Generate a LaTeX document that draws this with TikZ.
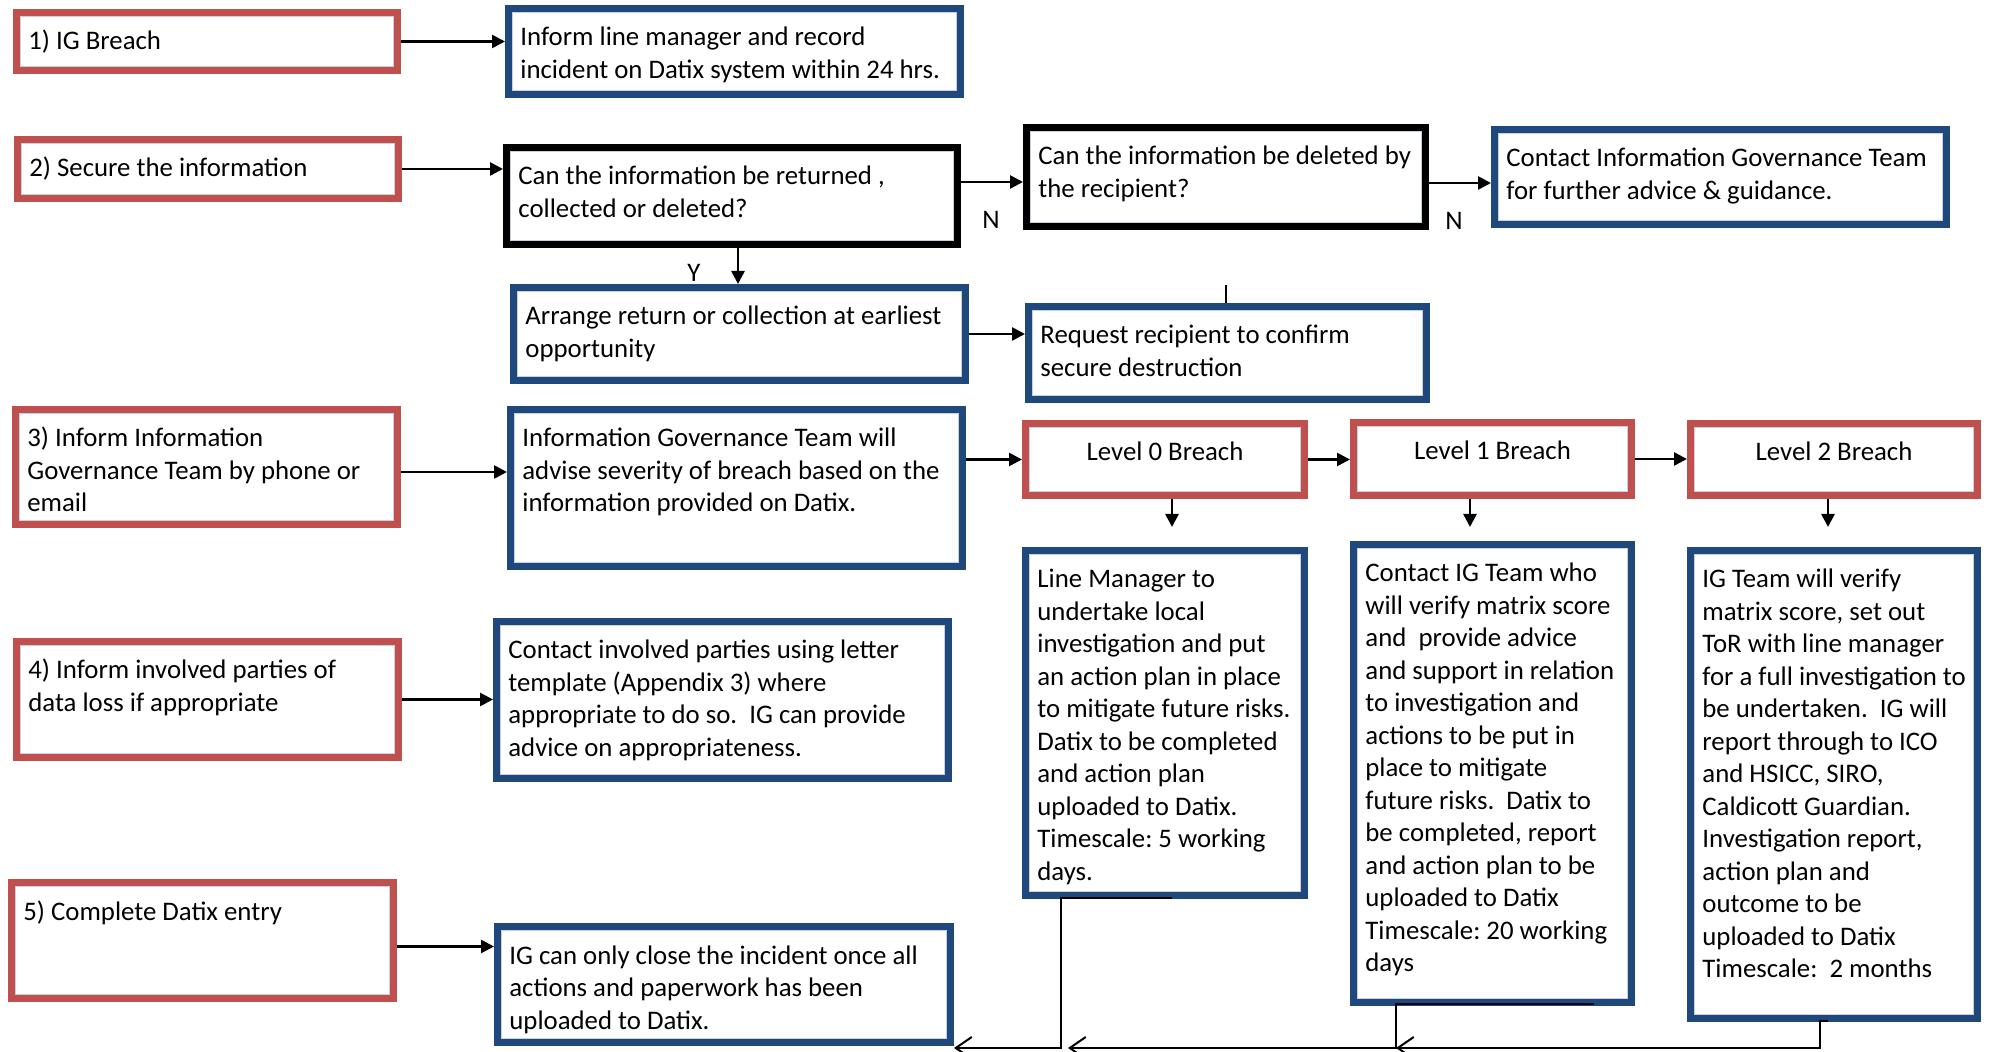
\documentclass[tikz,border=0pt]{standalone}
\usepackage{fontspec}
\setmainfont{Carlito}
\usetikzlibrary{arrows.meta,calc}
\definecolor{redc}{HTML}{C0504D}
\definecolor{bluec}{HTML}{1F497D}
\definecolor{innerc}{HTML}{C8D0DC}
\newcommand\fsz{\fontsize{13.4}{16.25}\selectfont}
\frenchspacing
\tikzset{
  boxbase/.style={rectangle, line width=3.5pt, fill=white, anchor=north west, inner sep=0pt},
  rbox/.style={boxbase, draw=redc},
  bbox/.style={boxbase, draw=bluec},
  kbox/.style={boxbase, draw=black},
  inl/.style={draw=innerc, line width=0.5pt},
  txt/.style={anchor=base west, inner sep=0pt, font=\fsz},
  ctxt/.style={anchor=base, inner sep=0pt, font=\fsz},
  lbl/.style={inner sep=0pt, font=\fsz},
  arr/.style={-{Triangle[length=6.5pt,width=6.5pt]}, line width=1.3pt},
  barb/.style={-{Straight Barb[length=8pt,width=11pt]}, line width=1pt},
}
% style, name, x0, y0, x1, y1, text
\newcommand\mkbox[7]{%
  \node[#1, minimum width={(#5-#3-7)*0.5pt}, minimum height={(#6-#4-7)*0.5pt}] (#2) at ({#3},{#4}) {};
  \draw[inl] ([shift={(3.7pt,-3.7pt)}]#2.north west) rectangle ([shift={(-3.7pt,3.7pt)}]#2.south east);
  \node[txt] (#2t) at ({#3+15},{#4+41}) {\parbox[t]{300pt}{\raggedright #7}};
}
\newcommand\mklevel[6]{%
  \node[rbox, minimum width={(#4-#2-7)*0.5pt}, minimum height={(#5-#3-7)*0.5pt}] (#1) at ({#2},{#3}) {};
  \draw[inl] ([shift={(3.7pt,-3.7pt)}]#1.north west) rectangle ([shift={(-3.7pt,3.7pt)}]#1.south east);
  \node[ctxt] (#1t) at ({(#2+#4)/2},{#3+41}) {#6};
}
\begin{document}
\begin{tikzpicture}[x=0.5pt,y=-0.5pt]
\useasboundingbox (0,0) rectangle (1992,1052);
\fill[white] (0,0) rectangle (1992,1052);

\mkbox{rbox}{R1}{13}{9}{401}{74}{1) IG Breach}
\mkbox{bbox}{B1}{505}{5}{964}{98}{Inform line manager and record\\incident on Datix system within 24 hrs.}
\mkbox{rbox}{R2}{14}{136}{402}{202}{2) Secure the information}
\mkbox{kbox}{Q1}{503}{144}{961}{248}{Can the information be returned ,\\collected or deleted?}
\mkbox{bbox}{Ar}{510}{284}{969}{384}{Arrange return or collection at earliest\\opportunity}
\mkbox{kbox}{Q2}{1023}{124}{1429}{230}{Can the information be deleted by\\the recipient?}
\mkbox{bbox}{Ct}{1491}{126}{1950}{228}{Contact Information Governance Team\\for further advice \& guidance.}
\mkbox{bbox}{Rq}{1025}{303}{1430}{403}{Request recipient to confirm\\secure destruction}
\mkbox{rbox}{R3}{12}{406}{401}{528}{3) Inform Information\\Governance Team by phone or\\email}
\mkbox{bbox}{B3}{507}{406}{966}{570}{Information Governance Team will\\advise severity of breach based on the\\information provided on Datix.}
\mklevel{L0}{1022}{420}{1308}{499}{Level 0 Breach}
\mklevel{L1}{1350}{419}{1635}{499}{Level 1 Breach}
\mklevel{L2}{1687}{420}{1981}{499}{Level 2 Breach}
\mkbox{bbox}{D0}{1022}{547}{1308}{899}{Line Manager to\\undertake local\\investigation and put\\an action plan in place\\to mitigate future risks.\\Datix to be completed\\and action plan\\uploaded to Datix.\\Timescale: 5 working\\days.}
\mkbox{bbox}{D1}{1350}{541}{1635}{1006}{Contact IG Team who\\will verify matrix score\\and~~provide advice\\and support in relation\\to investigation and\\actions to be put in\\place to mitigate\\future risks.~~Datix to\\be completed, report\\and action plan to be\\uploaded to Datix\\Timescale: 20 working\\days}
\mkbox{bbox}{D2}{1687}{547}{1981}{1022}{IG Team will verify\\matrix score, set out\\ToR with line manager\\for a full investigation to\\be undertaken.~~IG will\\report through to ICO\\and HSICC, SIRO,\\Caldicott Guardian.\\Investigation report,\\action plan and\\outcome to be\\uploaded to Datix\\Timescale:~~2 months}
\mkbox{rbox}{R4}{13}{638}{402}{761}{4) Inform involved parties of\\data loss if appropriate}
\mkbox{bbox}{B4}{493}{618}{952}{782}{Contact involved parties using letter\\template (Appendix 3) where\\appropriate to do so.~~IG can provide\\advice on appropriateness.}
\mkbox{rbox}{R5}{8}{879}{397}{1002}{5) Complete Datix entry}
\mkbox{bbox}{B5}{494}{923}{954}{1046}{IG can only close the incident once all\\actions and paperwork has been\\uploaded to Datix.}

% labels
\node[lbl] (lY) at (694,273) {Y};
\node[lbl] (lN1) at (991,220) {N};
\node[lbl] (lN2) at (1454,221) {N};

% connectors
\draw[arr] (R1.east) -- (R1.east -| B1.west);
\draw[arr] (R2.east) -- (R2.east -| Q1.west);
\draw[arr] ([yshift=7pt]Q1.east) -- ([yshift=7pt]Q1.east -| Q2.west);
\draw[arr] ([xshift=3pt]Q1.south) -- ([xshift=3pt]Q1.south |- Ar.north);
\draw[arr] ([yshift=-3pt]Q2.east) -- ([yshift=-3pt]Q2.east -| Ct.west);
\draw[arr] (Ar.east) -- (Ar.east -| Rq.west);
\coordinate (tk) at (1226,285);
\draw[line width=1.2pt] (tk) -- (tk |- Rq.north);
\draw[arr] ([yshift=-2.5pt]R3.east) -- ([yshift=-2.5pt]R3.east -| B3.west);
\draw[arr] (L0.west -| B3.east) -- (L0.west);
\draw[arr] (L0.east) -- (L0.east -| L1.west);
\draw[arr] (L1.east) -- (L1.east -| L2.west);
\coordinate (a0) at (1172,527);
\coordinate (a1) at (1470,527);
\coordinate (a2) at (1828,527);
\draw[arr] (a0 |- L0.south) -- (a0);
\draw[arr] (a1 |- L1.south) -- (a1);
\draw[arr] (a2 |- L2.south) -- (a2);
\draw[arr] (R4.east) -- (R4.east -| B4.west);
\draw[arr] ([yshift=-3pt]R5.east) -- ([yshift=-3pt]R5.east -| B5.west);

\coordinate (j0) at (1061,1048);
\coordinate (j1) at (1396,1048);
\coordinate (j2) at (1820,1048);
\coordinate (e1) at (1068,1048);
\draw[barb] ([xshift=3.5pt,yshift=0.5pt]D0.south) -| (j0) -- (B5.east |- j0);
\draw[barb] ([xshift=50.5pt,yshift=1pt]D1.south) -| (j1) -- (e1);
\draw[barb] ([xshift=-3pt,yshift=0.5pt]D2.south) -| (j2) -- (j1);
\end{tikzpicture}
\end{document}
